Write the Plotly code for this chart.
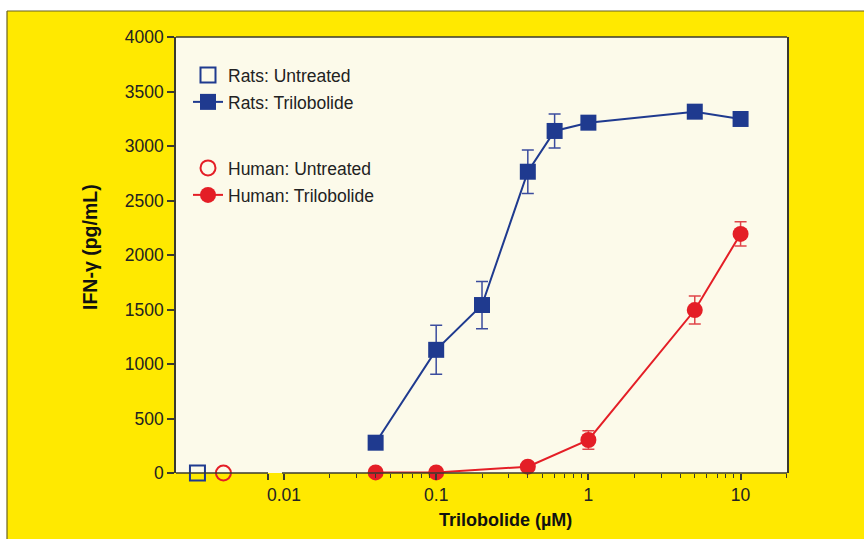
import plotly.graph_objects as go

# ---- data ----
rats_untreated_x = [0.0027]
rats_untreated_y = [0]
human_untreated_x = [0.004]
human_untreated_y = [0]

rats_x = [0.04, 0.1, 0.2, 0.4, 0.6, 1, 5, 10]
rats_y = [278, 1130, 1541, 2764, 3138, 3214, 3315, 3248]
rats_err = [0, 225, 217, 199, 156, 0, 0, 0]

human_x = [0.04, 0.1, 0.4, 1, 5, 10]
human_y = [5, 5, 58, 303, 1495, 2193]
human_err = [0, 0, 0, 84, 128, 111]

y_ticks = [0, 500, 1000, 1500, 2000, 2500, 3000, 3500, 4000]
x_major = [0.00782, 0.01, 0.1, 1, 10]
x_major_text = ["", "0.01", "0.1", "1", "10"]
x_minor = [0.02, 0.03, 0.04, 0.05, 0.06, 0.07, 0.08, 0.09,
           0.2, 0.3, 0.4, 0.5, 0.6, 0.7, 0.8, 0.9,
           2, 3, 4, 5, 6, 7, 8, 9, 20]

BLUE = "#1F3A8F"
RED = "#E41E26"
YELLOW = "#FFE900"
CREAM = "#FCFAEA"
AX = "#3a3a30"
FONT = "Arial, Liberation Sans, sans-serif"

fig = go.Figure()

fig.add_trace(go.Scatter(
    x=rats_untreated_x, y=rats_untreated_y, mode="markers", name="Rats: Untreated",
    marker=dict(symbol="square-open", size=15, color=BLUE, line=dict(width=2)),
    cliponaxis=False, legend="legend"))
fig.add_trace(go.Scatter(
    x=rats_x, y=rats_y, mode="lines+markers", name="Rats: Trilobolide",
    marker=dict(symbol="square", size=16, color=BLUE),
    line=dict(color=BLUE, width=2),
    error_y=dict(type="data", array=rats_err, visible=True, color="#3b4c9e", thickness=1.5, width=6),
    cliponaxis=False, legend="legend2"))
fig.add_trace(go.Scatter(
    x=human_untreated_x, y=human_untreated_y, mode="markers", name="Human: Untreated",
    marker=dict(symbol="circle-open", size=15, color=RED, line=dict(width=2)),
    cliponaxis=False, legend="legend3"))
fig.add_trace(go.Scatter(
    x=human_x, y=human_y, mode="lines+markers", name="Human: Trilobolide",
    marker=dict(symbol="circle", size=16, color=RED),
    line=dict(color=RED, width=2),
    error_y=dict(type="data", array=human_err, visible=True, color="#e0454a", thickness=1.5, width=6),
    cliponaxis=False, legend="legend4"))

# page pixel geometry (body margin removed by post_script)
L, R, T, B = 176, 787, 37, 473
W, H = 864, 539
pw, ph = R - L, B - T

def px(xp):
    return (xp - L) / pw

def py(yp):
    return (B - yp) / ph

leg_common = dict(font=dict(family=FONT, size=17.5, color="#222"), bgcolor="rgba(0,0,0,0)",
                  borderwidth=0, xanchor="left", yanchor="middle", x=px(188))

shapes = [
    dict(type="rect", xref="paper", yref="paper", x0=px(7), x1=px(W + 20), y0=py(11), y1=py(H + 20),
         fillcolor=YELLOW, line=dict(width=0), layer="below"),
    dict(type="rect", xref="paper", yref="paper", x0=0, x1=1, y0=0, y1=1,
         fillcolor=CREAM, line=dict(width=0), layer="below"),
    dict(type="line", xref="paper", yref="paper", x0=px(7), x1=px(W + 20), y0=py(11), y1=py(11),
         line=dict(color="#6b6320", width=1.2), layer="below"),
    dict(type="line", xref="paper", yref="paper", x0=px(7), x1=px(7), y0=py(11), y1=py(H + 20),
         line=dict(color="#6b6320", width=1.2), layer="below"),
    # top border
    dict(type="line", xref="paper", yref="paper", x0=0, x1=1, y0=1, y1=1,
         line=dict(color=AX, width=1.5)),
    # broken bottom axis
    dict(type="line", xref="paper", yref="paper", x0=0, x1=px(268), y0=0, y1=0,
         line=dict(color=AX, width=1.5)),
    dict(type="line", xref="paper", yref="paper", x0=px(282), x1=1, y0=0, y1=0,
         line=dict(color=AX, width=1.5)),
]

fig.update_layout(
    width=W, height=H,
    margin=dict(l=L, r=W - R, t=T, b=H - B),
    paper_bgcolor="white",
    plot_bgcolor=CREAM,
    font=dict(family=FONT, size=17.5, color="#222"),
    showlegend=True,
    hovermode=False,
    legend=dict(**leg_common, y=py(75)),
    legend2=dict(**leg_common, y=py(102)),
    legend3=dict(**leg_common, y=py(168)),
    legend4=dict(**leg_common, y=py(195)),
    xaxis=dict(
        type="log", range=[-2.7096, 1.305], showgrid=False, zeroline=False, showline=False,
        tickmode="array", tickvals=x_major, ticktext=x_major_text,
        ticks="outside", ticklen=6, tickwidth=1.5, tickcolor=AX,
        tickfont=dict(family=FONT, size=17.5, color="#222"),
        minor=dict(tickmode="array", tickvals=x_minor, ticks="outside", ticklen=4,
                   tickwidth=1.2, tickcolor=AX, showgrid=False),
    ),
    yaxis=dict(
        range=[0, 4000], showgrid=False, zeroline=False, showline=True, mirror=True,
        linecolor=AX, linewidth=1.5,
        tickmode="array", tickvals=y_ticks, ticks="outside", ticklen=7, tickwidth=1.5,
        tickcolor=AX, tickfont=dict(family=FONT, size=17.5, color="#222"),
    ),
    shapes=shapes,
    annotations=[
        dict(text="IFN-γ (pg/mL)", xref="paper", yref="paper", x=px(90), y=py(247),
             textangle=-90, showarrow=False, xanchor="center", yanchor="middle",
             font=dict(family=FONT, size=19.5, color="#111", weight="bold")),
        dict(text="Trilobolide (µM)", xref="paper", yref="paper", x=px(505), y=py(520),
             showarrow=False, xanchor="center", yanchor="middle",
             font=dict(family=FONT, size=18, color="#111", weight="bold")),
    ],
)

fig.write_html(
    "out.html",
    config={"displayModeBar": False},
    post_script="document.body.style.margin='0';document.body.style.overflow='hidden';",
)
